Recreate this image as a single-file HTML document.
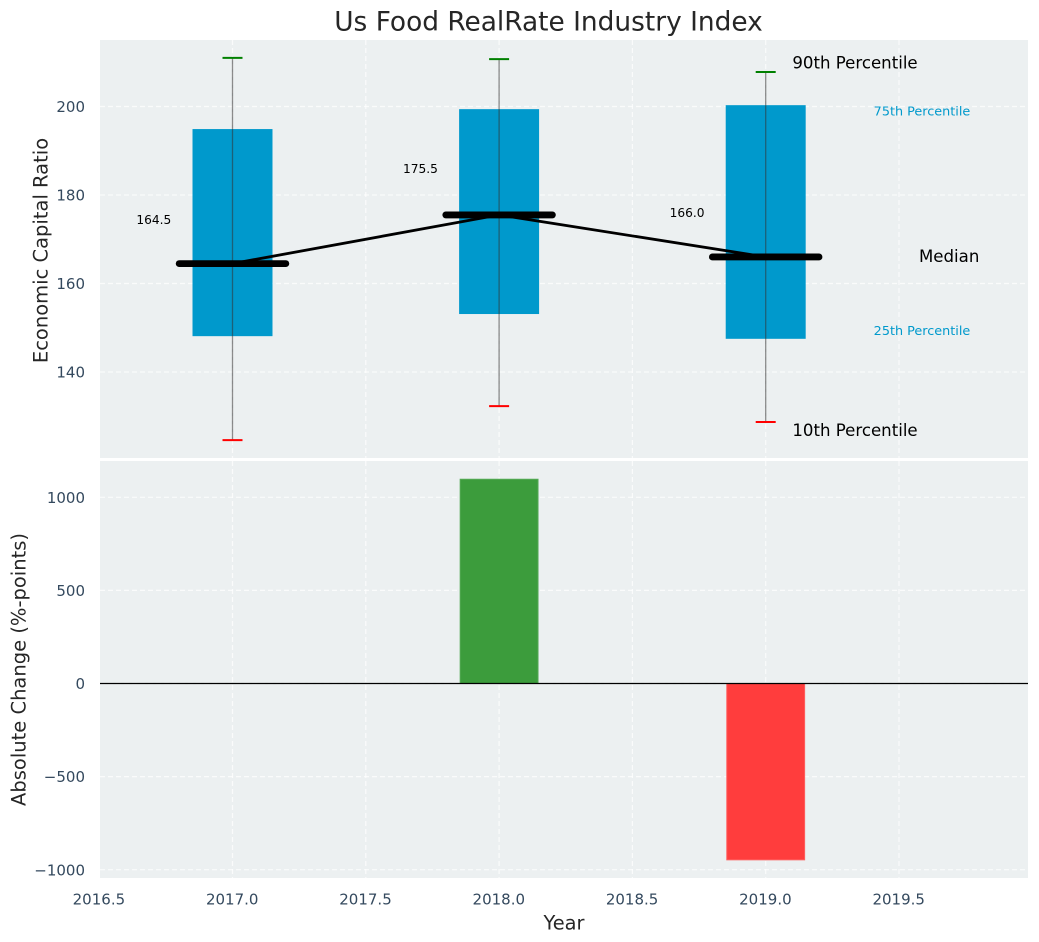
<!DOCTYPE html>
<html lang="en">
<head>
<meta charset="utf-8">
<title>Us Food RealRate Industry Index</title>
<style>
html,body{margin:0;padding:0;background:#fff;width:1039px;height:942px;overflow:hidden}
svg{display:block}
text{font-family:"DejaVu Sans","Liberation Sans",sans-serif}
</style>
</head>
<body>
<svg id="chart" xmlns="http://www.w3.org/2000/svg" width="1039" height="942" viewBox="0 0 1039 942"></svg>
<script>
const years = [2017, 2018, 2019];
const p90 = [211.0, 210.7, 207.8];
const p75 = [194.9, 199.4, 200.3];
const medians = [164.5, 175.5, 166.0];
const p25 = [148.1, 153.1, 147.5];
const p10 = [124.6, 132.3, 128.7];
const changes = [0, 1097, -947];
const xTicks = [2016.5, 2017, 2017.5, 2018, 2018.5, 2019, 2019.5];
const topTicks = [140, 160, 180, 200];
const bottomTicks = [-1000, -500, 0, 500, 1000];
const medianLabels = ['164.5', '175.5', '166.0'];
const bottomTickLabels = ['\u22121000', '\u2212500', '0', '500', '1000'];
const medianLabelLift = [9.9, 10.4, 9.9];

const svg = document.getElementById('chart');
const NS = 'http://www.w3.org/2000/svg';
const L = 100, R = 1028, T1 = 40, B1 = 458, T2 = 461, B2 = 878;
const sx = v => 232.5 + (v - 2017) * 266.6;
const sy1 = v => 106.5 + (200 - v) * 4.425;
const sy2 = v => 683.5 - v * 0.1862;

function make(tag, attrs, text) {
  const el = document.createElementNS(NS, tag);
  for (const k in attrs) el.setAttribute(k, attrs[k]);
  if (text !== undefined) el.textContent = text;
  svg.appendChild(el);
  return el;
}
function line(x1, y1, x2, y2, stroke, width, extra) {
  return make('line', Object.assign({x1, y1, x2, y2, stroke, 'stroke-width': width}, extra || {}));
}
function label(x, y, str, size, fill, anchor, extra) {
  return make('text', Object.assign({x, y, 'font-size': size, fill, 'text-anchor': anchor || 'start', 'dominant-baseline': 'central'}, extra || {}), str);
}
const gridStyle = {'stroke-dasharray': '5 3', opacity: '0.75'};
let el;

el = make('rect', {x: L, y: T1, width: R - L, height: B1 - T1, fill: '#ecf0f1'});


el = make('rect', {x: L, y: T2, width: R - L, height: B2 - T2, fill: '#ecf0f1'});



xTicks.forEach(t => {
  el = line(sx(t), T1, sx(t), B1, '#fff', 1.2, gridStyle);
  
  
  el = line(sx(t), T2, sx(t), B2, '#fff', 1.2, gridStyle);
  
  
  el = label(sx(t) - 0.3, 899.5, t.toFixed(1), 15, '#34495e', 'middle');
  
  
});
topTicks.forEach(t => {
  el = line(L, sy1(t), R, sy1(t), '#fff', 1.2, gridStyle);
  
  
  el = label(85, sy1(t) + 0.6, String(t), 15, '#34495e', 'end');
  
  
});
bottomTicks.forEach((t, i) => {
  el = line(L, sy2(t), R, sy2(t), '#fff', 1.2, gridStyle);
  
  
  el = label(85, sy2(t) + 0.6, bottomTickLabels[i], 15, '#34495e', 'end');
  
  
});

years.forEach((y, i) => {
  el = make('rect', {x: sx(y - 0.15), y: sy1(p75[i]), width: sx(y + 0.15) - sx(y - 0.15), height: sy1(p25[i]) - sy1(p75[i]), fill: '#0099cc'});
  
  
});
years.forEach((y, i) => {
  el = line(sx(y), sy1(p90[i]), sx(y), sy1(p10[i]), '#333', 1.3, {opacity: '0.55'});
  
  
  el = line(sx(y) - 10, sy1(p90[i]), sx(y) + 10, sy1(p90[i]), '#008000', 2);
  
  
  el = line(sx(y) - 10, sy1(p10[i]), sx(y) + 10, sy1(p10[i]), '#ff0000', 2);
  
  
});

el = make('polyline', {points: years.map((y, i) => sx(y) + ',' + sy1(medians[i])).join(' '), fill: 'none', stroke: '#000', 'stroke-width': 2.8});



years.forEach((y, i) => {
  el = line(sx(y - 0.2), sy1(medians[i]), sx(y + 0.2), sy1(medians[i]), '#000', 6.8, {'stroke-linecap': 'round'});
  
  
  el = label(sx(y - 0.295), sy1(medians[i] + medianLabelLift[i]), medianLabels[i], 12.2, '#000', 'middle');
  
  
});

const ly = years[2];
el = label(sx(ly + 0.1), sy1(p90[2] + 2), '90th Percentile', 16.6, '#000');


el = label(sx(ly + 0.1), sy1(p10[2] - 1.9), '10th Percentile', 16.6, '#000');


el = label(sx(ly + 0.405), sy1(p75[2] - 1.5), '75th Percentile', 12.8, '#0099cc');


el = label(sx(ly + 0.405), sy1(p25[2] + 1.6), '25th Percentile', 12.8, '#0099cc');


el = label(sx(ly + 0.575), sy1(medians[2]) - 0.5, 'Median', 16.6, '#000');



years.forEach((y, i) => {
  const v = changes[i];
  if (v === 0) return;
  el = make('rect', {
    x: sx(y - 0.146), y: Math.min(sy2(0), sy2(v)),
    width: sx(y + 0.146) - sx(y - 0.146), height: Math.abs(sy2(v) - sy2(0)),
    fill: v > 0 ? '#3c9c3c' : '#ff3d3d', stroke: v > 0 ? '#55a955' : '#ff5f5f', 'stroke-width': 1
  });
  
  
});

el = line(L, sy2(0), R, sy2(0), '#000', 1.2);



el = label(548.5, 22, 'Us Food RealRate Industry Index', 26.4, '#262626', 'middle');


el = label(564, 923, 'Year', 19.4, '#262626', 'middle');


el = label(41, 250.5, 'Economic Capital Ratio', 19.5, '#262626', 'middle', {transform: 'rotate(-90 41 250.5)'});


el = label(19, 669.5, 'Absolute Change (%-points)', 19.5, '#262626', 'middle', {transform: 'rotate(-90 19 669.5)'});


</script>
</body>
</html>
